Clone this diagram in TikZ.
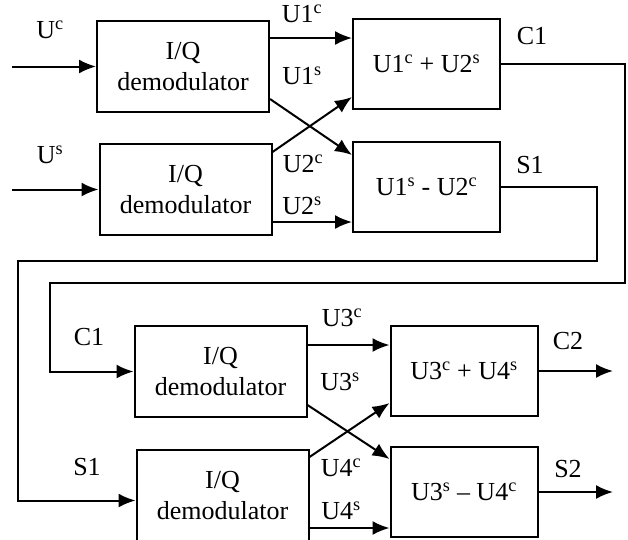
\documentclass[tikz,border=0pt]{standalone}
\usepackage{fontspec}
\setmainfont{Liberation Serif}
\usetikzlibrary{arrows.meta}
\tikzset{
  >={Latex[length=17pt,width=14pt]},
}
\tikzstyle{every node}=[font=\fontsize{26}{31}\selectfont]
\tikzstyle{block}=[draw,line width=2pt,minimum width=172pt,minimum height=91pt,align=center,inner sep=0pt]
\tikzstyle{sumblock}=[draw,line width=2pt,minimum width=147pt,minimum height=90pt,inner sep=0pt]
\tikzstyle{signal}=[line width=2pt,->]
\newcommand{\usig}[2]{U#1\textsuperscript{#2}}

\begin{document}
\begin{tikzpicture}[x=1pt,y=-1pt]
    \useasboundingbox (0,0) rectangle (628,539);
    % first stage
    \node[block] (dem1) at (183,66.5) {I/Q\\demodulator};
    \node[block] (dem2) at (185.5,189.5) {I/Q\\demodulator};
    \node[sumblock] (csum1) at (426.5,64) {\usig{1}{c} + \usig{2}{s}};
    \node[sumblock] (sdiff1) at (426.5,187) {\usig{1}{s} - \usig{2}{c}};
    \coordinate (inc) at (12,66.5);
    \coordinate (ins) at (12,189.5);
    \draw[signal] (inc) -- (dem1.west);
    \draw[signal] (ins) -- (dem2.west);
    \node (lUc) at (50,30) {U\textsuperscript{c}};
    \node (lUs) at (50,155) {U\textsuperscript{s}};
    \draw[signal] ([yshift=-18pt]dem1.north east) -- ([yshift=-18pt]dem1.north east -| csum1.west);
    \draw[signal] ([yshift=14pt]dem1.south east) -- ([yshift=-14pt]sdiff1.north west);
    \draw[signal] ([yshift=-9pt]dem2.north east) -- ([yshift=13pt]csum1.south west);
    \draw[signal] ([yshift=14pt]dem2.south east) -- ([yshift=14pt]dem2.south east -| sdiff1.west);
    \node (lU1c) at (302,14) {\usig{1}{c}};
    \node (lU1s) at (302,76) {\usig{1}{s}};
    \node (lU2c) at (303,164) {\usig{2}{c}};
    \node (lU2s) at (302,206) {\usig{2}{s}};
    \node (lC1) at (532,36) {C1};
    \node (lS1) at (530,165) {S1};
    % second stage
    \node[block] (dem3) at (220.5,371.5) {I/Q\\demodulator};
    \node[block] (dem4) at (222.5,495.5) {I/Q\\demodulator};
    \node[sumblock] (csum2) at (464,371) {\usig{3}{c} + \usig{4}{s}};
    \node[sumblock] (sdiff2) at (464,492) {\usig{3}{s} -- \usig{4}{c}};
    % feedback
    \coordinate (c1turn) at (625,283);
    \coordinate (c1back) at (50,283);
    \coordinate (s1turn) at (597,261);
    \coordinate (s1back) at (18,261);
    \draw[signal] (csum1.east) -| (c1turn) -- (c1back) |- (dem3.west);
    \draw[signal] (sdiff1.east) -| (s1turn) -- (s1back) |- ([yshift=-5pt]dem4.west);
    \node (lC1b) at (89,337) {C1};
    \node (lS1b) at (87,467) {S1};
    \draw[signal] ([yshift=-20pt]dem3.north east) -- ([yshift=-20pt]dem3.north east -| csum2.west);
    \draw[signal] ([yshift=13pt]dem3.south east) -- ([yshift=-13pt]sdiff2.north west);
    \draw[signal] ([yshift=-8pt]dem4.north east) -- ([yshift=14pt]csum2.south west);
    \draw[signal] ([yshift=14pt]dem4.south east) -- ([yshift=14pt]dem4.south east -| sdiff2.west);
    \node (lU3c) at (342,318) {\usig{3}{c}};
    \node (lU3s) at (340,382) {\usig{3}{s}};
    \node (lU4c) at (341,468) {\usig{4}{c}};
    \node (lU4s) at (341,511) {\usig{4}{s}};
    \coordinate (outc) at (613,371);
    \coordinate (outs) at (613,492);
    \draw[signal] (csum2.east) -- (outc);
    \draw[signal] (sdiff2.east) -- (outs);
    \node (lC2) at (568,341) {C2};
    \node (lS2) at (568,469) {S2};
\end{tikzpicture}
\end{document}
